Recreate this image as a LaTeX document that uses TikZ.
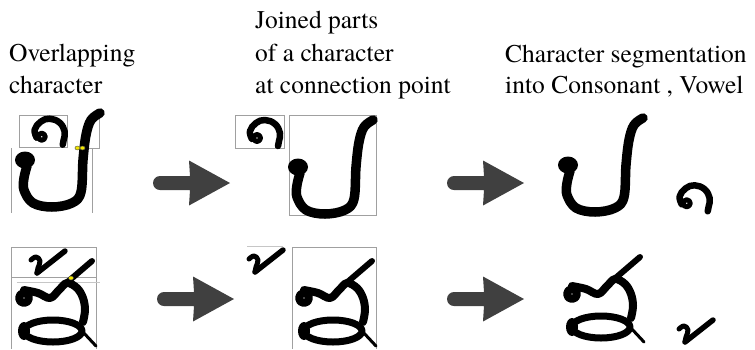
\documentclass[tikz,border=0pt]{standalone}
\usepackage{fontspec}
\newfontfamily\capfont{texgyretermes-regular.otf}
\definecolor{framegray}{HTML}{A0A0A0}
\definecolor{arrowgray}{HTML}{404040}
\definecolor{markyellow}{HTML}{F2E600}
\tikzset{
  caption/.style={anchor=base west, inner sep=0pt, font=\capfont\fontsize{25.5}{32}\selectfont},
  frame/.style={draw=framegray, line width=0.9pt},
  ink/.style={draw=black, line width=#1, line cap=round, line join=round},
  joint/.style={fill=markyellow, draw=black!70, line width=0.4pt},
  % thick grey block arrow, origin at the centre of the rounded tail
  pics/fatarrow/.style={code={
    \fill[arrowgray] (0,-7) -- (30,-7) -- (29,-22.5) -- (70,0) -- (29,22.5) -- (30,7) -- (0,7)
      arc[start angle=90, end angle=270, radius=7] -- cycle;
  }},
  % consonant "po", origin at the centre of its head
  pics/po/.style={code={
    \fill (0,0) ellipse[x radius=10, y radius=8.5];
    \draw[ink=9.5] plot[smooth, tension=0.6] coordinates
      {(2,6) (-1,18) (-1,30) (8,43) (27,47) (47,43) (56,32) (58,0) (61,-25) (66,-40) (75,-47)};
  }},
  % small curled vowel sign, origin at its inner loop
  pics/curlmark/.style={code={
    \draw[ink=5] (0,0) circle[radius=3.5];
    \draw[ink=6.5] plot[smooth, tension=0.7] coordinates
      {(-5,1) (-7,-7) (-1,-15) (8,-18) (18,-14) (23,-5) (22,3) (21,8)};
  }},
  % tone mark, origin at its lower corner
  pics/tick/.style={code={
    \draw[ink=5] plot[smooth, tension=0.7] coordinates {(-6,-13) (-1,-16) (3,-12) (1,-5) (0,0)};
    \draw[ink=5.5] (0,0) -- (28,-22);
  }},
  % consonant "so" with its slash, origin at the notch of the top stroke
  pics/so/.style={code={
    \draw[ink=8] (-26,0) circle[radius=5];
    \draw[ink=8] plot[smooth, tension=0.6] coordinates
      {(-26,-8) (-12,-5) (0,0) (9,-8) (17,-15) (27,-10) (33,0) (35,12) (33,24)};
    \draw[ink=7] (3,33) ellipse[x radius=29, y radius=11];
    \fill (-26,33) ellipse[x radius=6, y radius=9];
    \draw[ink=6] (42,-37) -- (14,-13);
    \draw[ink=3] (32,33) -- (46,48);
  }}
}
\begin{document}
\begin{tikzpicture}[x=1pt,y=-1pt]
\useasboundingbox (0,0) rectangle (755,349);

% column headings
\node[caption] (h1a) at (9,61) {Overlapping};
\node[caption] (h1b) at (9,93) {character};
\node[caption] (h2a) at (255,28) {Joined parts};
\node[caption] (h2b) at (255,61) {of a character};
\node[caption] (h2c) at (255,93) {at connection point};
\node[caption] (h3a) at (505,62) {Character segmentation};
\node[caption] (h3b) at (505,93) {into Consonant , Vowel};

% ---- first row: po with curled vowel ----
% overlapping input
\draw[frame] (19.3,115.7) rectangle (67.7,147.7);
\draw[frame] (75,148) -- (99,148) -- (99,118);
\draw[frame] (11.7,148) -- (11.7,213);
\draw[frame] (92.7,148) -- (92.7,213);
\pic at (25,160) {po};
\pic at (41.7,136.7) {curlmark};
\draw[joint] (77.5,148) ellipse[x radius=2.6, y radius=2];
\draw[joint] (82.5,148) ellipse[x radius=2.6, y radius=2];
% separated at the joint
\draw[frame] (235.7,115) rectangle (284,148.3);
\draw[frame] (289.3,115) rectangle (376.7,215);
\pic at (298,167) {po};
\pic at (257,138) {curlmark};
% segmented
\pic at (568,165) {po};
\pic at (686.7,203.3) {curlmark};

% ---- second row: so with tone mark ----
\draw[frame] (11.7,247) rectangle (96.7,277.7);
\draw[frame] (11.7,277.7) -- (11.7,349);
\draw[frame] (96.7,277.7) -- (96.7,349);
\draw[frame, draw=framegray!60] (16.7,282.3) -- (100,282.3);
\pic at (50,298) {so};
\pic at (37,273) {tick};
\draw[joint] (71,278) ellipse[x radius=2.5, y radius=2];
% separated
\draw[frame, draw=framegray!60] (247,246.7) -- (283,246.7);
\draw[frame] (292.7,349) -- (292.7,247.3) -- (376.7,247.3) -- (376.7,349);
\pic at (330,298) {so};
\pic at (255,272) {tick};
% segmented
\pic at (598,294) {so};
\pic at (685,342) {tick};

% ---- arrows between the stages ----
\pic at (160,183) {fatarrow};
\pic at (454,183) {fatarrow};
\pic at (164,299) {fatarrow};
\pic at (454,299) {fatarrow};
\end{tikzpicture}
\end{document}
